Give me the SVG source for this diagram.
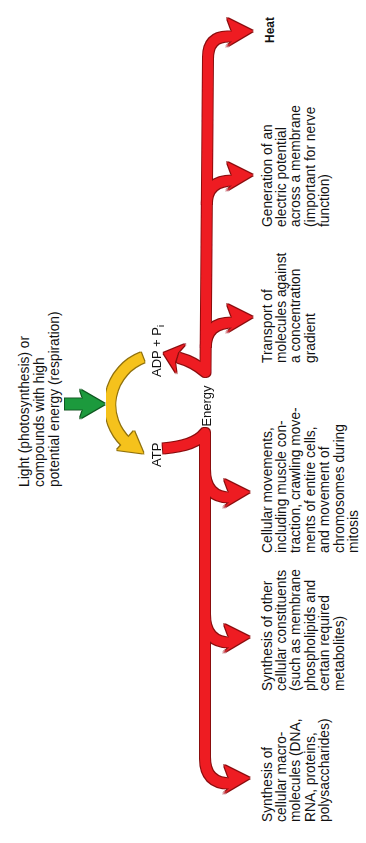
<svg xmlns="http://www.w3.org/2000/svg" xmlns:xlink="http://www.w3.org/1999/xlink" width="366" height="843" viewBox="0 0 366 843">
<defs>
<style>
.t{font-family:"Liberation Sans",Arial,Helvetica,sans-serif;font-size:13.8px;fill:#111111}
.lb{font-family:"Liberation Sans",Arial,Helvetica,sans-serif;font-size:13px;fill:#111111}
.b{font-weight:bold;font-size:12px}
.red{fill:none;stroke:#ee1d23;stroke-width:10;stroke-linejoin:round;stroke-linecap:butt}
.redf{fill:#ee1d23}
.yel{fill:none;stroke:#f5c21b;stroke-width:10.5;stroke-linecap:butt}
.yelf{fill:#f5c21b}
.grn{fill:#1f9a3c}
</style>
<filter id="ol" x="-10%" y="-10%" width="120%" height="120%">
<feMorphology in="SourceGraphic" operator="dilate" radius="0.8" result="d"/>
<feColorMatrix in="d" type="matrix" values="0.3 0 0 0 0  0 0.3 0 0 0  0 0 0.3 0 0  0 0 0 1 0" result="o"/>
<feMerge><feMergeNode in="o"/><feMergeNode in="SourceGraphic"/></feMerge>
</filter>
<path id="hd" d="M0,0 L-26,-13 L-21,0.5 L-21,10.5 L-27,16 Z"/>
</defs>
<rect width="366" height="843" fill="#ffffff"/>

<g id="connectors">
  <g id="energy-flow" filter="url(#ol)">
    <path class="red" d="M233,36.5 L228,36.5 Q208,36.5 208,58 L205.5,372 Q194,362 178,357.5"/>
    <path class="red" d="M206.8,204 Q206.8,180.5 233,180.5"/>
    <path class="red" d="M205.8,347 Q205.8,322.5 233,322.5"/>
    <path class="red" d="M163,448.5 Q195,446 205,433 L205,758 Q205,783.5 230,783.5"/>
    <path class="red" d="M205,470 Q205,497.5 230,497.5"/>
    <path class="red" d="M205,615 Q205,642.5 230,642.5"/>
    <use xlink:href="#hd" href="#hd" class="redf" x="253" y="31"/>
    <use xlink:href="#hd" href="#hd" class="redf" x="253" y="175"/>
    <use xlink:href="#hd" href="#hd" class="redf" x="253" y="317"/>
    <use xlink:href="#hd" href="#hd" class="redf" x="250" y="492"/>
    <use xlink:href="#hd" href="#hd" class="redf" x="250" y="637"/>
    <use xlink:href="#hd" href="#hd" class="redf" x="250" y="778"/>
    <path class="redf" d="M163.5,353 L185.5,344 L178,352.5 L175,362 L176.5,373.5 Z"/>
  </g>
  <g id="atp-cycle" filter="url(#ol)">
    <path class="yel" d="M142.7,357.4 A51,51 0 0 0 126.2,442.3"/>
    <path class="yelf" d="M143.5,453.5 L134,431 L117,450 Z"/>
  </g>
  <g id="input-arrow" filter="url(#ol)">
    <path class="grn" d="M65,398.5 L83,398.5 L80,389.5 L105,404 L80,418.5 L83,409.5 L65,409.5 Z"/>
  </g>
</g>

<g id="source">
  <text class="t" transform="translate(0,487) rotate(-90)">
    <tspan x="0" y="29">Light (photosynthesis) or</tspan>
    <tspan x="0" y="44">compounds with high</tspan>
    <tspan x="0" y="59">potential energy (respiration)</tspan>
  </text>
</g>

<g id="atp">
  <text class="lb" transform="translate(0,467) rotate(-90)" x="0" y="160.5">ATP</text>
</g>
<g id="adp">
  <text class="lb" transform="translate(0,377) rotate(-90)" x="0" y="160.5">ADP + P<tspan font-size="9" dy="3">i</tspan></text>
</g>
<g id="energy">
  <text class="lb" transform="translate(0,406) rotate(-90)" x="0" y="210.5" text-anchor="middle">Energy</text>
</g>

<g id="heat">
  <text class="t b" transform="translate(0,43) rotate(-90)" x="0" y="273.5">Heat</text>
</g>

<g id="electric-potential">
  <text class="t" transform="translate(0,227) rotate(-90)">
    <tspan x="0" y="271.5">Generation of an</tspan>
    <tspan x="0" y="285.9">electric potential</tspan>
    <tspan x="0" y="300.3">across a membrane</tspan>
    <tspan x="0" y="314.7">(important for nerve</tspan>
    <tspan x="0" y="329.1">function)</tspan>
  </text>
</g>

<g id="transport">
  <text class="t" transform="translate(0,363) rotate(-90)">
    <tspan x="0" y="271.5">Transport of</tspan>
    <tspan x="0" y="285.9">molecules against</tspan>
    <tspan x="0" y="300.3">a concentration</tspan>
    <tspan x="0" y="314.7">gradient</tspan>
  </text>
</g>

<g id="movements">
  <text class="t" transform="translate(0,553) rotate(-90)">
    <tspan x="0" y="271.5">Cellular movements,</tspan>
    <tspan x="0" y="285.9">including muscle con-</tspan>
    <tspan x="0" y="300.3">traction, crawling move-</tspan>
    <tspan x="0" y="314.7">ments of entire cells,</tspan>
    <tspan x="0" y="329.1">and movement of</tspan>
    <tspan x="0" y="343.5">chromosomes during</tspan>
    <tspan x="0" y="357.9">mitosis</tspan>
  </text>
</g>

<g id="synthesis-other">
  <text class="t" transform="translate(0,691) rotate(-90)">
    <tspan x="0" y="271.5">Synthesis of other</tspan>
    <tspan x="0" y="285.9">cellular constituents</tspan>
    <tspan x="0" y="300.3">(such as membrane</tspan>
    <tspan x="0" y="314.7">phospholipids and</tspan>
    <tspan x="0" y="329.1">certain required</tspan>
    <tspan x="0" y="343.5">metabolites)</tspan>
  </text>
</g>

<g id="synthesis-macro">
  <text class="t" transform="translate(0,822) rotate(-90)">
    <tspan x="0" y="271.5">Synthesis of</tspan>
    <tspan x="0" y="285.9">cellular macro-</tspan>
    <tspan x="0" y="300.3">molecules (DNA,</tspan>
    <tspan x="0" y="314.7">RNA, proteins,</tspan>
    <tspan x="0" y="329.1">polysaccharides)</tspan>
  </text>
</g>
</svg>
